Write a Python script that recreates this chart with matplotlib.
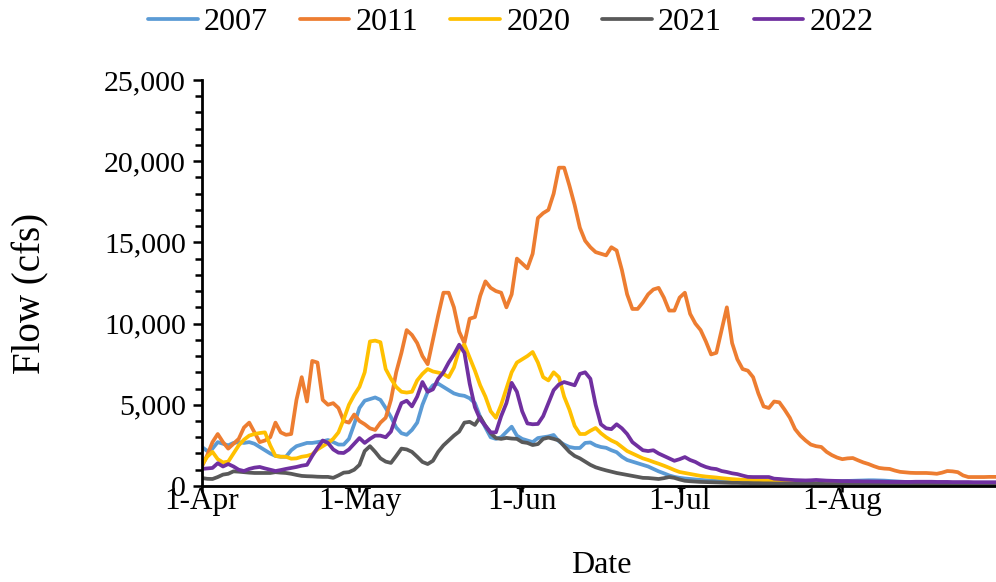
import numpy as np
import matplotlib
matplotlib.use("Agg")
import matplotlib.pyplot as plt
from matplotlib.ticker import MultipleLocator, FuncFormatter

# daily flow (cfs), day 0 = 1-Apr
flow_2007 = [2400, 2150, 2300, 2700, 2600, 2500, 2650, 2700, 2650, 2700, 2600, 2400, 2200, 2000, 1850, 1800,
             1800, 2200, 2450, 2550, 2650, 2650, 2700, 2750, 2830, 2700, 2550, 2550, 2900, 3800, 4800, 5250,
             5350, 5450, 5300, 4800, 4250, 3600, 3250, 3150, 3450, 3900, 5000, 5800, 6200, 6300, 6100, 5900,
             5700, 5600, 5550, 5400, 5100, 4250, 3600, 3000, 2900, 3000, 3330, 3650, 3100, 2900, 2800, 2700,
             2950, 3000, 3050, 3140, 2750, 2550, 2400, 2340, 2340, 2650, 2680, 2500, 2400, 2350, 2200, 2080,
             1800, 1600, 1500, 1400, 1300, 1200, 1050, 900, 780, 650, 560, 500, 460, 430, 400, 370,
             350, 330, 310, 300, 290, 290, 290, 290, 290, 290, 290, 290, 290, 290, 290, 290,
             290, 290, 290, 290, 290, 290, 290, 290, 290, 300, 300, 310, 320, 330, 340, 350,
             350, 340, 330, 310, 290, 270, 250, 230, 210, 200, 190, 180, 170, 160, 160, 150,
             150, 140, 140, 130, 130, 120, 120, 120, 120]
flow_2011 = [1200, 1900, 2700, 3200, 2700, 2300, 2600, 2900, 3600, 3900, 3300, 2700, 2800, 3000, 3900, 3300,
             3150, 3200, 5300, 6700, 5200, 7700, 7600, 5300, 5000, 5100, 4800, 4000, 3900, 4400, 4000, 3800,
             3550, 3450, 3900, 4200, 5300, 7000, 8200, 9600, 9300, 8800, 8000, 7500, 9000, 10500, 11900, 11900,
             11000, 9500, 8800, 10300, 10400, 11700, 12600, 12200, 12000, 11900, 11000, 11800, 14000, 13700, 13400, 14300,
             16500, 16800, 17000, 18000, 19600, 19600, 18500, 17300, 15900, 15100, 14700, 14400, 14300, 14200, 14700, 14500,
             13300, 11800, 10900, 10900, 11300, 11800, 12100, 12200, 11600, 10800, 10800, 11600, 11900, 10600, 10000, 9600,
             8900, 8100, 8200, 9600, 11000, 8800, 7800, 7200, 7100, 6700, 5700, 4900, 4800, 5200, 5150, 4700,
             4200, 3500, 3100, 2800, 2550, 2450, 2400, 2100, 1900, 1750, 1650, 1700, 1720, 1580, 1450, 1350,
             1220, 1110, 1070, 1050, 950, 870, 840, 810, 800, 800, 800, 780, 750, 820, 920, 900,
             850, 650, 550, 550, 550, 550, 560, 560, 560]
flow_2020 = [1300, 1800, 2100, 1650, 1450, 1500, 2000, 2500, 2850, 3100, 3200, 3260, 3300, 2500, 1850, 1800,
             1800, 1680, 1700, 1800, 1850, 1950, 2250, 2450, 2650, 2900, 3300, 4100, 5000, 5600, 6100, 7000,
             8900, 8950, 8850, 7200, 6600, 6100, 5800, 5750, 5800, 6500, 6900, 7200, 7050, 6980, 6900, 6700,
             7300, 8400, 8700, 7900, 7100, 6200, 5500, 4600, 4200, 5000, 6000, 7000, 7600, 7800, 8000, 8250,
             7600, 6700, 6500, 7000, 6700, 5500, 4700, 3700, 3200, 3200, 3400, 3570, 3250, 3000, 2800, 2650,
             2400, 2150, 2000, 1850, 1700, 1600, 1480, 1370, 1250, 1120, 980, 860, 800, 740, 680, 620,
             580, 550, 520, 480, 450, 420, 400, 380, 370, 370, 350, 330, 310, 290, 270, 250,
             230, 210, 200, 190, 180, 170, 160, 150, 140, 130, 120, 110, 110, 100, 100, 100,
             100, 90, 90, 90, 90, 90, 90, 80, 80, 80, 80, 80, 80, 80, 80, 80,
             80, 80, 80, 80, 80, 80, 80, 80, 80]
flow_2021 = [490, 440, 430, 550, 700, 750, 900, 880, 850, 820, 800, 800, 800, 800, 850, 820,
             800, 750, 680, 620, 600, 590, 570, 560, 560, 500, 650, 820, 850, 1000, 1300, 2150,
             2450, 2100, 1700, 1500, 1420, 1850, 2300, 2250, 2100, 1800, 1480, 1350, 1550, 2100, 2500, 2800,
             3100, 3350, 3900, 3950, 3760, 4250, 3700, 3250, 2950, 2900, 2960, 2920, 2900, 2700, 2650, 2520,
             2580, 2900, 2980, 2900, 2800, 2450, 2100, 1850, 1700, 1500, 1300, 1150, 1050, 960, 880, 800,
             740, 680, 620, 560, 500, 490, 460, 430, 480, 550, 500, 400, 320, 290, 270, 250,
             240, 230, 220, 210, 200, 190, 190, 180, 180, 170, 170, 160, 160, 150, 150, 150,
             140, 140, 140, 130, 130, 130, 130, 120, 120, 120, 120, 120, 110, 110, 110, 110,
             110, 100, 100, 100, 100, 100, 100, 100, 100, 100, 100, 100, 100, 100, 100, 100,
             100, 100, 100, 100, 100, 100, 100, 100, 100]
flow_2022 = [1050, 1080, 1110, 1400, 1200, 1350, 1200, 1000, 920, 1050, 1130, 1170, 1080, 1000, 920, 980,
             1050, 1110, 1170, 1250, 1300, 1850, 2350, 2800, 2650, 2250, 2050, 2030, 2250, 2600, 2950, 2650,
             2900, 3100, 3100, 3000, 3350, 4300, 5100, 5250, 4900, 5500, 6400, 5800, 5950, 6600, 7000, 7600,
             8100, 8700, 8200, 6300, 4850, 4100, 3700, 3300, 3300, 4300, 5100, 6350, 5800, 4600, 3850, 3800,
             3820, 4300, 5100, 5900, 6250, 6400, 6300, 6200, 6900, 7000, 6600, 5000, 3800, 3550, 3500, 3800,
             3550, 3200, 2700, 2450, 2200, 2150, 2200, 2000, 1850, 1700, 1550, 1650, 1780, 1600, 1480, 1300,
             1170, 1080, 1040, 920, 860, 780, 730, 640, 560, 550, 550, 550, 550, 450, 430, 400,
             380, 360, 350, 340, 350, 370, 350, 330, 320, 310, 300, 300, 290, 290, 280, 280,
             270, 270, 260, 250, 250, 250, 250, 250, 260, 260, 260, 260, 250, 250, 250, 240,
             240, 240, 240, 230, 230, 230, 230, 230, 230]

years = ["2007", "2011", "2020", "2021", "2022"]
series = [flow_2007, flow_2011, flow_2020, flow_2021, flow_2022]
colors = ["#5B9BD5", "#ED7D31", "#FFC000", "#595959", "#7030A0"]

month_days = [0, 30, 61, 91, 122]
month_labels = ["1-Apr", "1-May", "1-Jun", "1-Jul", "1-Aug"]

plt.rcParams['font.family'] = ['Liberation Serif', 'DejaVu Serif']

fig = plt.figure(figsize=(9.96, 5.82), dpi=100)
ax = fig.add_axes([0.2028, 0.165, 0.801, 0.6976])

for yr, vals, c in zip(years, series, colors):
    ax.plot(np.arange(len(vals)), vals, color=c, linewidth=2.7, label=yr,
            solid_joinstyle='round', solid_capstyle='round')

ax.set_xlim(0, 152)
ax.set_ylim(0, 25000)
ax.set_xticks(month_days)
ax.set_xticklabels(month_labels)
ax.yaxis.set_major_locator(MultipleLocator(5000))
ax.yaxis.set_minor_locator(MultipleLocator(1000))
ax.yaxis.set_major_formatter(FuncFormatter(lambda v, p: f"{v:,.0f}"))

for s in ["top", "right"]:
    ax.spines[s].set_visible(False)
for s in ["left", "bottom"]:
    ax.spines[s].set_linewidth(2.0)
    ax.spines[s].set_color("black")

ax.tick_params(axis='y', which='major', direction='out', length=6.5, width=1.8,
               labelsize=21.5, pad=5)
ax.tick_params(axis='y', which='minor', direction='out', length=5, width=1.8)
ax.tick_params(axis='x', which='major', direction='out', length=4, width=1.8,
               labelsize=22.5, pad=-3)

ax.set_xlabel("Date", fontsize=23, labelpad=25)
ax.set_ylabel("Flow (cfs)", fontsize=28)
ax.yaxis.set_label_coords(-0.191, 0.473)

fig.legend(loc='center', bbox_to_anchor=(0.513, 0.962), ncol=5, frameon=False,
           fontsize=23, handlelength=1.55, handletextpad=0.2, columnspacing=1.0)

fig.savefig("out.png", dpi=100)
